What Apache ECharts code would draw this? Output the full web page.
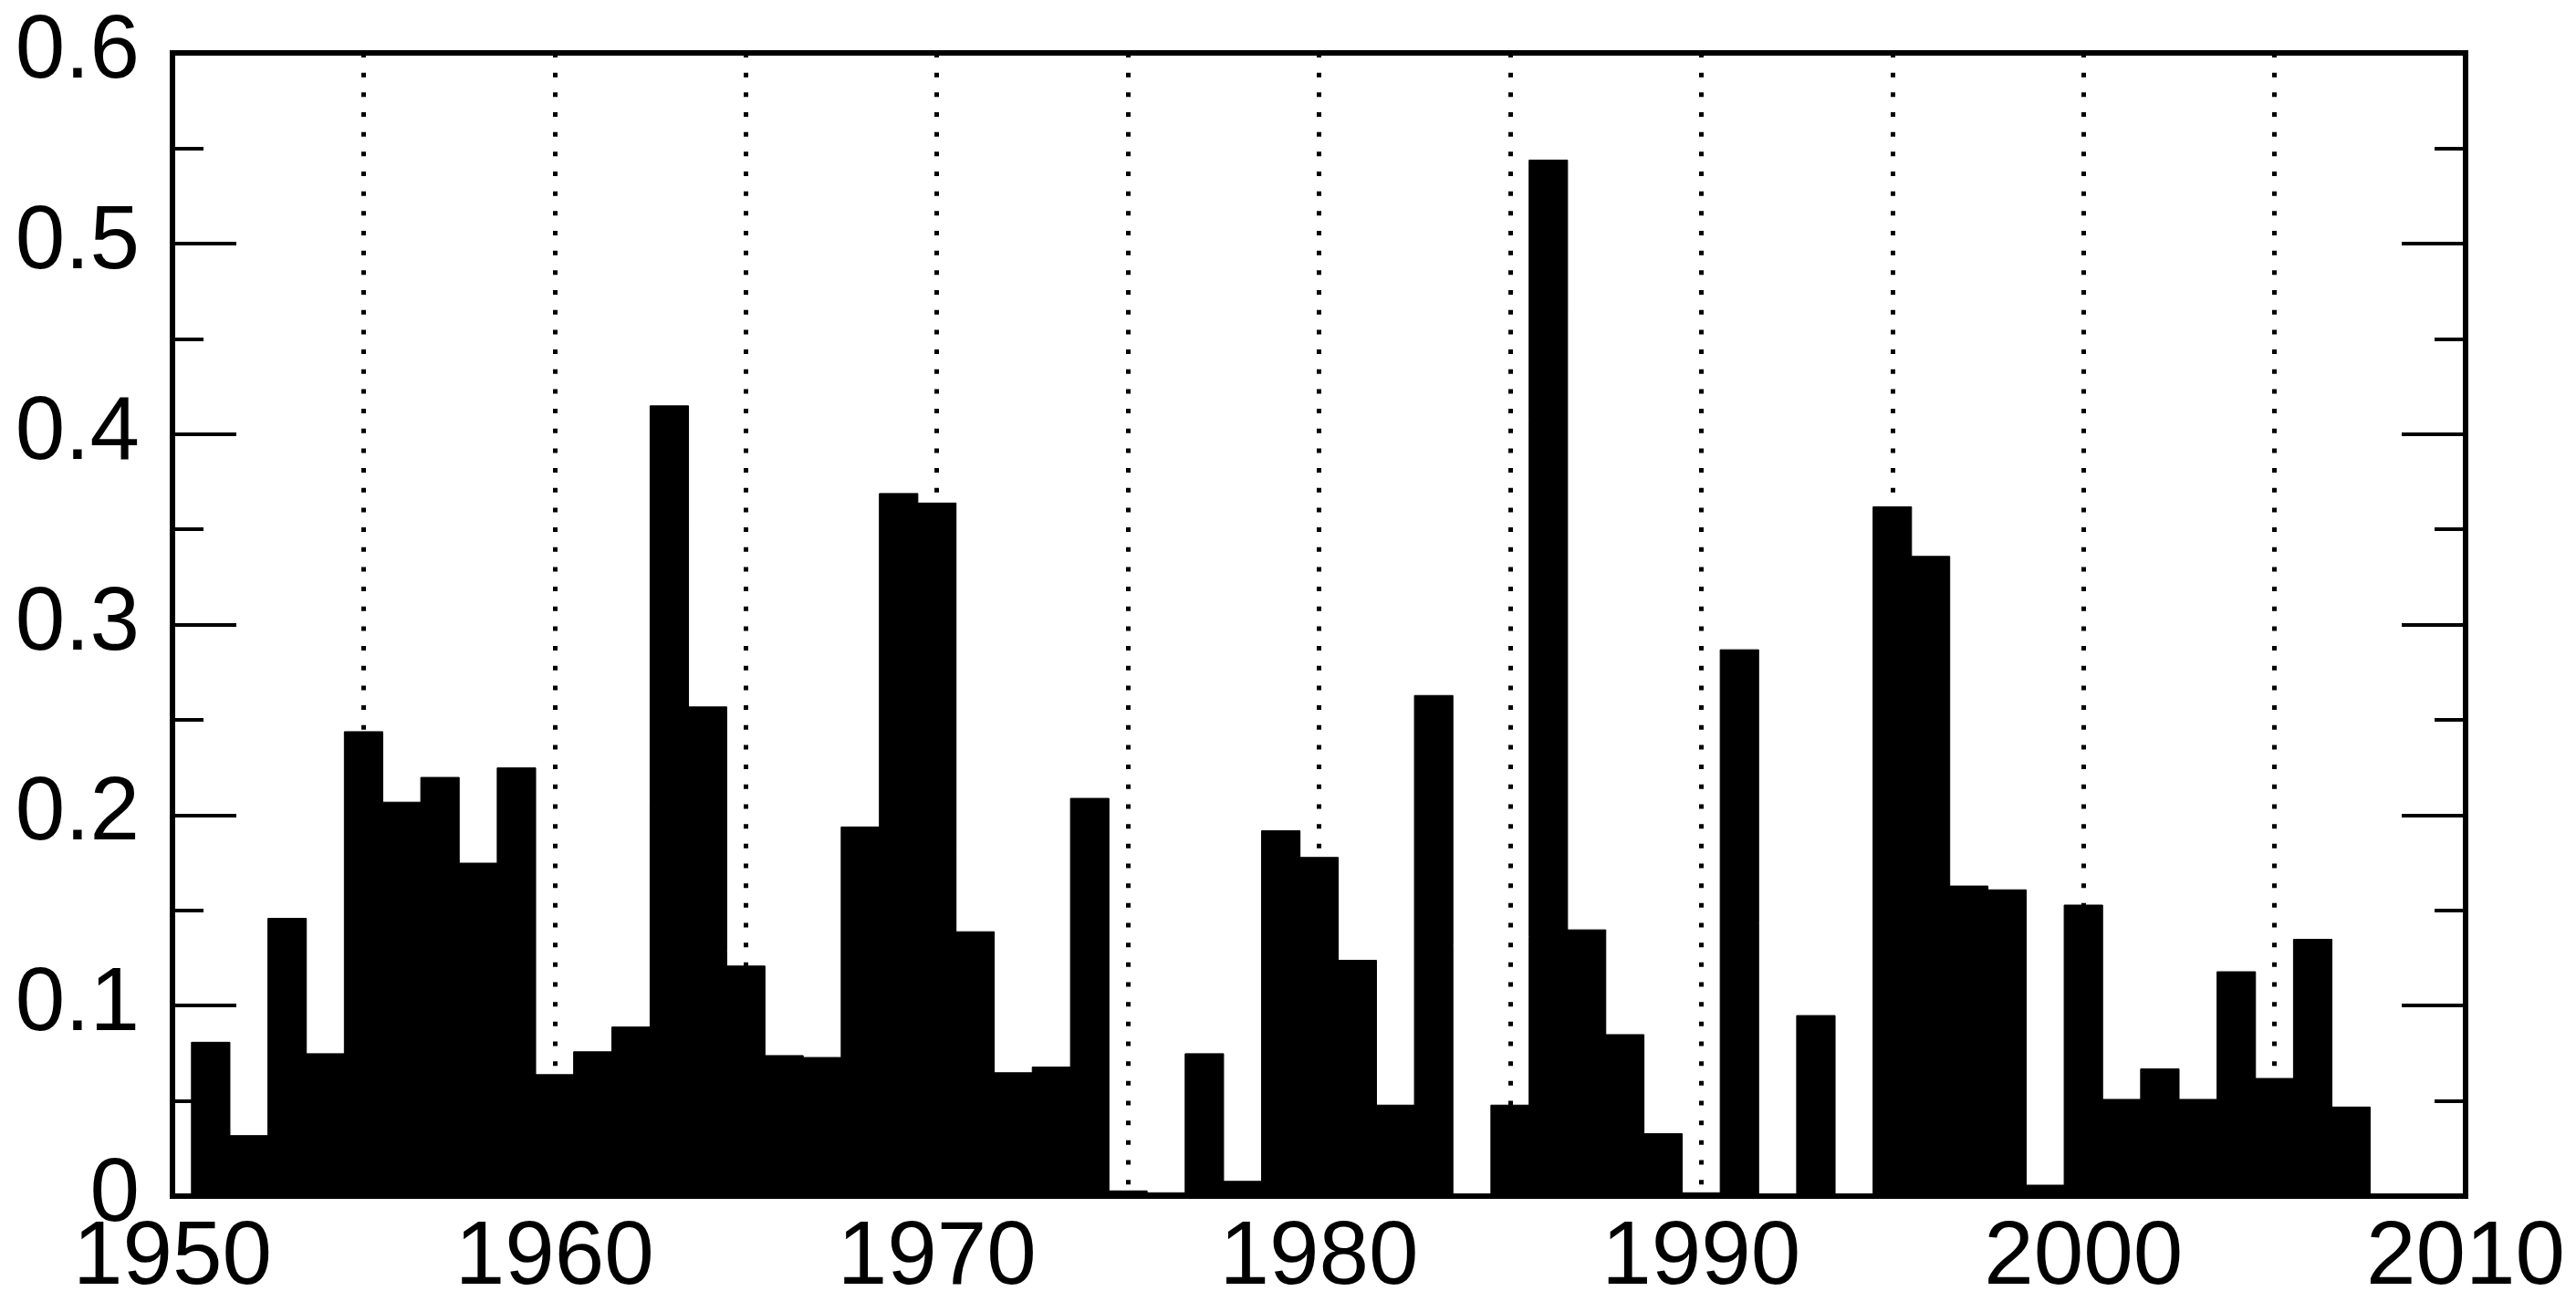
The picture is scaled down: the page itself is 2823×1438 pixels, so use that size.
<!DOCTYPE html>
<html>
<head>
<meta charset="utf-8">
<script src="https://cdn.jsdelivr.net/npm/echarts@6/dist/echarts.min.js"></script>
<style>
html,body{margin:0;padding:0;background:#fff;}
#chart{width:2823px;height:1438px;}
</style>
</head>
<body>
<div id="chart"></div>
<script>
var years = [1951,1952,1953,1954,1955,1956,1957,1958,1959,1960,
             1961,1962,1963,1964,1965,1966,1967,1968,1969,1970,
             1971,1972,1973,1974,1975,1976,1977,1978,1979,1980,
             1981,1982,1983,1984,1985,1986,1987,1988,1989,1990,
             1991,1992,1993,1994,1995,1996,1997,1998,1999,2000,
             2001,2002,2003,2004,2005,2006,2007,2008];
var values = [0.081,0.032,0.146,0.075,0.244,0.207,0.220,0.175,0.225,0.064,
              0.076,0.089,0.415,0.257,0.121,0.074,0.073,0.194,0.369,0.364,
              0.139,0.065,0.068,0.209,0.003,0.002,0.075,0.008,0.192,0.178,
              0.124,0.048,0.263,0.001,0.048,0.544,0.140,0.085,0.033,0.002,
              0.287,0.001,0.095,0.001,0.362,0.336,0.163,0.161,0.006,0.153,
              0.051,0.067,0.051,0.118,0.062,0.135,0.047,0.000];
var xMin = 1950, xMax = 2010, xStep = 5, xLabelStep = 10;
var yMin = 0, yMax = 0.6, yStep = 0.1;

var FONT = "'Liberation Sans', Arial, Helvetica, sans-serif";
var data = years.map(function (y, i) { return [y, values[i]]; });

var chart = echarts.init(document.getElementById('chart'), null, {renderer: 'canvas'});
var frameLine = {show: true, lineStyle: {color: '#000', width: 6, cap: 'square'}};
var yCommon = {
  type: 'value', min: yMin, max: yMax, interval: yStep, z: 5,
  axisLine: frameLine,
  axisTick: {show: true, inside: true, length: 70, lineStyle: {color: '#000', width: 4}},
  minorTick: {show: true, splitNumber: 2, length: 34, lineStyle: {color: '#000', width: 4}},
  splitLine: {show: false}
};
chart.setOption({
  animation: false,
  backgroundColor: '#fff',
  grid: {left: 189, right: 121, top: 58, bottom: 127, show: true, borderColor: '#000', borderWidth: 6, backgroundColor: 'transparent'},
  xAxis: [{
    type: 'value', min: xMin, max: xMax, interval: xStep, position: 'bottom', z: 0,
    axisLine: {show: false}, axisTick: {show: false},
    axisLabel: {
      show: true, margin: 20, color: '#000', fontSize: 98, fontFamily: FONT,
      formatter: function (v) { return (v % xLabelStep === 0) ? String(v) : ''; }
    },
    splitLine: {show: true, lineStyle: {color: '#000', width: 5, type: [5, 16.67]}}
  }, {
    type: 'value', min: xMin, max: xMax, interval: xStep, position: 'bottom', z: 5,
    axisLine: frameLine, axisTick: {show: false}, axisLabel: {show: false}, splitLine: {show: false}
  }, {
    type: 'value', min: xMin, max: xMax, interval: xStep, position: 'top', z: 5,
    axisLine: frameLine, axisTick: {show: false}, axisLabel: {show: false}, splitLine: {show: false}
  }],
  yAxis: [
    Object.assign({}, yCommon, {position: 'left',
      axisLabel: {show: true, margin: 36, color: '#000', fontSize: 98, fontFamily: FONT}}),
    Object.assign({}, yCommon, {position: 'right', axisLabel: {show: false}})
  ],
  series: [{
    type: 'bar', xAxisIndex: 0, yAxisIndex: 0, data: data,
    barWidth: '103%', barGap: '-3%',
    itemStyle: {color: '#000', borderColor: '#000', borderWidth: 1}, z: 2, silent: true
  }]
});
</script>
</body>
</html>
